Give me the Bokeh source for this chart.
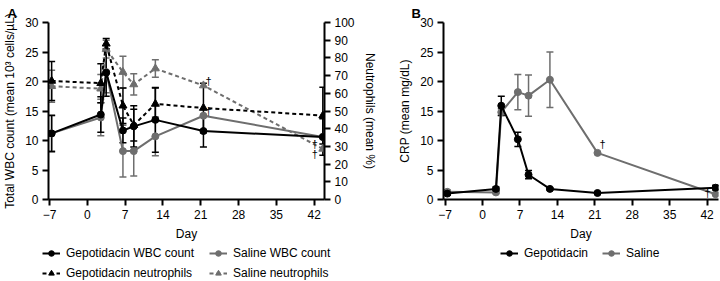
import numpy as np
from bokeh.plotting import figure
from bokeh.models import (ColumnDataSource, Whisker, TeeHead, LinearAxis, Range1d,
                          FixedTicker, Legend, LegendItem, Title)
from bokeh.layouts import row, column
from bokeh.embed import file_html
from bokeh.resources import INLINE
from bokeh.core.properties import value

# ---------------- data ----------------
days = [-6.6, 2.5, 3.5, 6.6, 8.6, 12.6, 21.5, 43.6]
x_ticks = [-7, 0, 7, 14, 21, 28, 35, 42]
wbc_ticks = [0, 5, 10, 15, 20, 25, 30]
neut_ticks = [0, 10, 20, 30, 40, 50, 60, 70, 80, 90, 100]

gep_wbc = [11.2, 14.4, 21.5, 11.7, 12.4, 13.5, 11.6, 10.6]
gep_wbc_err = [3.1, 3.0, 4.0, 2.1, 3.5, 5.5, 2.7, 3.1]
sal_wbc = [11.2, 13.9, 21.6, 8.2, 8.2, 10.7, 14.2, 10.6]
sal_wbc_err = [3.0, 3.1, 3.5, 4.4, 4.2, 3.3, np.nan, np.nan]

gep_neut = [67.0, 65.7, 88.0, 53.0, 42.0, 54.0, 51.7, 47.4]
gep_neut_err = [11.0, 11.0, 3.0, 10.0, 9.0, 9.0, 14.0, 16.0]
sal_neut = [64.0, 62.6, 85.0, 72.0, 65.0, 74.0, 64.4, 28.6]
sal_neut_err = [9.0, 8.0, 5.0, 9.0, 6.0, 5.0, np.nan, np.nan]

gep_crp = [1.0, 1.8, 15.9, 10.2, 4.2, 1.8, 1.1, 2.0]
gep_crp_err = [0.3, 0.3, 1.6, 1.2, 0.7, 0.2, 0.1, 0.4]
sal_crp = [1.3, 1.2, 14.8, 18.2, 17.6, 20.3, 7.9, 0.9]
sal_crp_err = [0.3, 0.2, 0.6, 3.0, 3.5, 4.7, np.nan, np.nan]

dagger_idx = [6, 7]  # saline time points marked with a dagger

FONT = "Liberation Sans"
BLACK = "#000000"
GREY = "#6e6e6e"
DASH = "4 3"
PLOT_H = 245
LEG_H = 36


def style(p):
    p.outline_line_color = None
    p.grid.visible = False
    p.background_fill_color = "white"
    p.border_fill_color = "white"


def style_axis(ax, ticks, label):
    ax.ticker = FixedTicker(ticks=ticks)
    ax.axis_label = label
    ax.axis_label_text_font = FONT
    ax.axis_label_text_font_size = "12px"
    ax.axis_label_text_font_style = "normal"
    ax.axis_label_text_color = BLACK
    ax.axis_label_standoff = 5
    ax.major_label_text_font = FONT
    ax.major_label_text_font_size = "12px"
    ax.major_label_text_color = BLACK
    ax.major_label_standoff = 4
    ax.axis_line_width = 2
    ax.axis_line_color = BLACK
    ax.major_tick_line_width = 2
    ax.major_tick_line_color = BLACK
    ax.major_tick_out = 6
    ax.major_tick_in = 0
    ax.minor_tick_line_color = None


def err_source(x, y, e):
    xs, lo, hi = [], [], []
    for xi, yi, ei in zip(x, y, e):
        if not np.isnan(ei):
            xs.append(xi)
            lo.append(yi - ei)
            hi.append(yi + ei)
    return ColumnDataSource(dict(x=xs, lower=lo, upper=hi))


def add_err(p, x, y, e, color, range_name="default"):
    w = Whisker(source=err_source(x, y, e), base="x", lower="lower", upper="upper",
                dimension="height", line_color=color, line_width=1.5,
                upper_head=TeeHead(size=7, line_color=color, line_width=1.5),
                lower_head=TeeHead(size=7, line_color=color, line_width=1.5),
                y_range_name=range_name)
    p.add_layout(w)


def add_series(p, x, y, color, marker, msize, dash="solid", range_name="default"):
    src = ColumnDataSource(dict(x=x, y=y))
    ln = p.line("x", "y", source=src, line_color=color, line_width=2,
                line_dash=dash, y_range_name=range_name)
    sc = p.scatter("x", "y", source=src, marker=marker, size=msize,
                   fill_color=color, line_color=color, y_range_name=range_name)
    return [ln, sc]


def add_daggers(p, xs, ys, xoff, yoff, range_name="default"):
    src = ColumnDataSource(dict(x=xs, y=ys))
    p.text("x", "y", text=value("\u2020"), source=src, text_font=value(FONT),
           text_font_size="11px", text_color=BLACK, text_align="center",
           text_baseline="middle", x_offset=xoff, y_offset=yoff,
           y_range_name=range_name)


def panel_title(p, letter, offset):
    t = Title(text=letter, align="left", offset=offset, standoff=4,
              text_font=FONT, text_font_size="13px", text_font_style="bold",
              text_color=BLACK)
    p.add_layout(t, "above")


def legend_fig(width):
    # legend strip: same series glyphs, plotted out of view, only the legend shows
    f = figure(width=width, height=LEG_H, x_range=Range1d(-7.2, 44),
               y_range=Range1d(1000, 1001), x_axis_type=None, y_axis_type=None,
               output_backend="svg", toolbar_location=None,
               min_border_left=0, min_border_right=0, min_border_top=0,
               min_border_bottom=0)
    f.outline_line_color = None
    f.background_fill_color = "white"
    f.border_fill_color = "white"
    return f


def add_legend(f, renderers, label, x, y):
    lg = Legend(items=[LegendItem(label=label, renderers=renderers)],
                location=(x, y), padding=0, margin=0, spacing=0,
                glyph_width=18, glyph_height=14, label_height=14,
                label_standoff=6, label_text_font=FONT,
                label_text_font_size="12px", label_text_color=BLACK,
                border_line_color=None, background_fill_alpha=0)
    f.add_layout(lg)


# ---------------- panel A ----------------
pA = figure(width=395, height=PLOT_H, x_range=Range1d(-7.18, 43.91), y_range=Range1d(0, 30),
            output_backend="svg", toolbar_location=None,
            min_border_left=43, min_border_right=71, min_border_top=22, min_border_bottom=46)
style(pA)
pA.extra_y_ranges = {"neut": Range1d(0, 100)}
style_axis(pA.xaxis[0], x_ticks, "Day")
style_axis(pA.yaxis[0], wbc_ticks, "Total WBC count (mean 10\u00b3 cells/\u00b5L)")
ax_r = LinearAxis(y_range_name="neut")
style_axis(ax_r, neut_ticks, "Neutrophils (mean %)")
pA.add_layout(ax_r, "right")

add_err(pA, days, sal_neut, sal_neut_err, GREY, "neut")
add_err(pA, days, sal_wbc, sal_wbc_err, GREY)
add_err(pA, days, gep_neut, gep_neut_err, BLACK, "neut")
add_err(pA, days, gep_wbc, gep_wbc_err, BLACK)

add_series(pA, days, sal_neut, GREY, "triangle", 8, DASH, "neut")
add_series(pA, days, sal_wbc, GREY, "circle", 7)
add_series(pA, days, gep_neut, BLACK, "triangle", 8, DASH, "neut")
add_series(pA, days, gep_wbc, BLACK, "circle", 7)

dx = [days[i] for i in dagger_idx]
add_daggers(pA, [dx[0]], [sal_wbc[dagger_idx[0]]], 5, -5)
add_daggers(pA, [dx[1]], [sal_wbc[dagger_idx[1]]], -8, 7)
add_daggers(pA, [dx[0]], [sal_neut[dagger_idx[0]]], 5, -5, "neut")
add_daggers(pA, [dx[1]], [sal_neut[dagger_idx[1]]], -8, 5, "neut")
panel_title(pA, "A", -41)

legA = legend_fig(395)
legA.extra_y_ranges = {"neut": Range1d(1000, 1001)}
l_gw = add_series(legA, days, gep_wbc, BLACK, "circle", 7)
l_sw = add_series(legA, days, sal_wbc, GREY, "circle", 7)
l_gn = add_series(legA, days, gep_neut, BLACK, "triangle", 8, DASH, "neut")
l_sn = add_series(legA, days, sal_neut, GREY, "triangle", 8, DASH, "neut")
add_legend(legA, l_gw, "Gepotidacin WBC count", 42, 21)
add_legend(legA, l_sw, "Saline WBC count", 209, 21)
add_legend(legA, l_gn, "Gepotidacin neutrophils", 42, 1)
add_legend(legA, l_sn, "Saline neutrophils", 209, 1)

# ---------------- panel B ----------------
pB = figure(width=325, height=PLOT_H, x_range=Range1d(-7.31, 44.14), y_range=Range1d(0, 30),
            output_backend="svg", toolbar_location=None,
            min_border_left=40, min_border_right=2, min_border_top=22, min_border_bottom=46)
style(pB)
style_axis(pB.xaxis[0], x_ticks, "Day")
style_axis(pB.yaxis[0], wbc_ticks, "CRP (mean mg/dL)")

add_err(pB, days, sal_crp, sal_crp_err, GREY)
add_err(pB, days, gep_crp, gep_crp_err, BLACK)
add_series(pB, days, sal_crp, GREY, "circle", 7)
add_series(pB, days, gep_crp, BLACK, "circle", 7)
add_daggers(pB, [dx[0]], [sal_crp[dagger_idx[0]]], 5, -9)
add_daggers(pB, [dx[1]], [sal_crp[dagger_idx[1]]], -8, -1)
panel_title(pB, "B", -32)

legB = legend_fig(325)
l_gc = add_series(legB, days, gep_crp, BLACK, "circle", 7)
l_sc = add_series(legB, days, sal_crp, GREY, "circle", 7)
add_legend(legB, l_gc, "Gepotidacin", 105, 21)
add_legend(legB, l_sc, "Saline", 207, 21)

layout = column(row(pA, pB), row(legA, legB))
open("out.html", "w").write(file_html(layout, INLINE))
